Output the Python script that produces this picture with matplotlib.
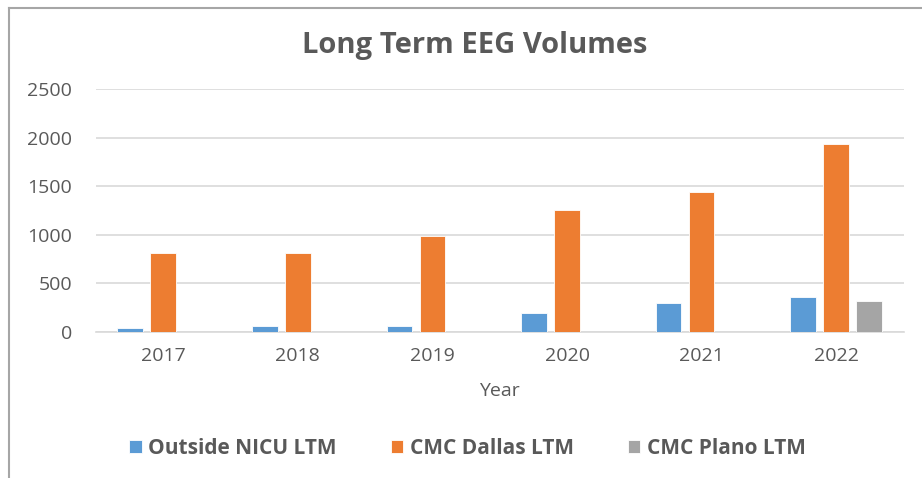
import numpy as np
import matplotlib.pyplot as plt
from matplotlib.lines import Line2D

plt.rcParams['font.family'] = ['Open Sans', 'DejaVu Sans']

years = ['2017', '2018', '2019', '2020', '2021', '2022']
outside_nicu = [42, 58, 58, 190, 293, 361]
cmc_dallas = [814, 814, 987, 1254, 1440, 1932]
cmc_plano = [0, 0, 0, 0, 0, 313]

series_names = ['Outside NICU LTM', 'CMC Dallas LTM', 'CMC Plano LTM']
colors = ['#5b9bd5', '#ed7d31', '#a5a5a5']
text_col = '#595959'

fig = plt.figure(figsize=(9.22, 4.78), dpi=100)
ax = fig.add_axes([0.104, 0.306, 0.876, 0.507])

x = np.arange(len(years))
w = 0.19
step = 0.245
for i, vals in enumerate([outside_nicu, cmc_dallas, cmc_plano]):
    ax.bar(x + (i - 1) * step, vals, width=w, color=colors[i],
           edgecolor='white', linewidth=0.6, label=series_names[i], zorder=3)

ax.set_xlim(-0.5, len(years) - 0.5)
ax.set_ylim(0, 2500)
ax.set_yticks(range(0, 2501, 500))
ax.set_xticks(x)
ax.set_xticklabels(years)
ax.grid(axis='y', color='#d9d9d9', linewidth=1.2, zorder=0)
for s in ['top', 'right', 'left']:
    ax.spines[s].set_visible(False)
ax.spines['bottom'].set_color('#d9d9d9')
ax.spines['bottom'].set_linewidth(1.2)
ax.tick_params(axis='both', length=0, colors=text_col, labelsize=14)
ax.tick_params(axis='y', pad=17)
ax.tick_params(axis='x', pad=11)
ax.set_xlabel('Year', color=text_col, fontsize=14, labelpad=12)

fig.text(0.515, 0.905, 'Long Term EEG Volumes', ha='center', va='center',
         fontsize=21, fontweight='bold', color=text_col)

ax.legend(loc='center', bbox_to_anchor=(0.46, -0.48), ncol=3, frameon=False,
          fontsize=15, handlelength=0.6, handleheight=0.6, handletextpad=0.3,
          columnspacing=2.6, labelcolor=text_col)
for t in ax.get_legend().get_texts():
    t.set_fontweight('bold')

# chart border
fig.add_artist(Line2D([0.0098, 0.0098], [0, 0.983], color='#a6a6a6', linewidth=1.5))
fig.add_artist(Line2D([0.0098, 1.0], [0.983, 0.983], color='#a6a6a6', linewidth=1.5))

fig.savefig('out.png', dpi=100)
